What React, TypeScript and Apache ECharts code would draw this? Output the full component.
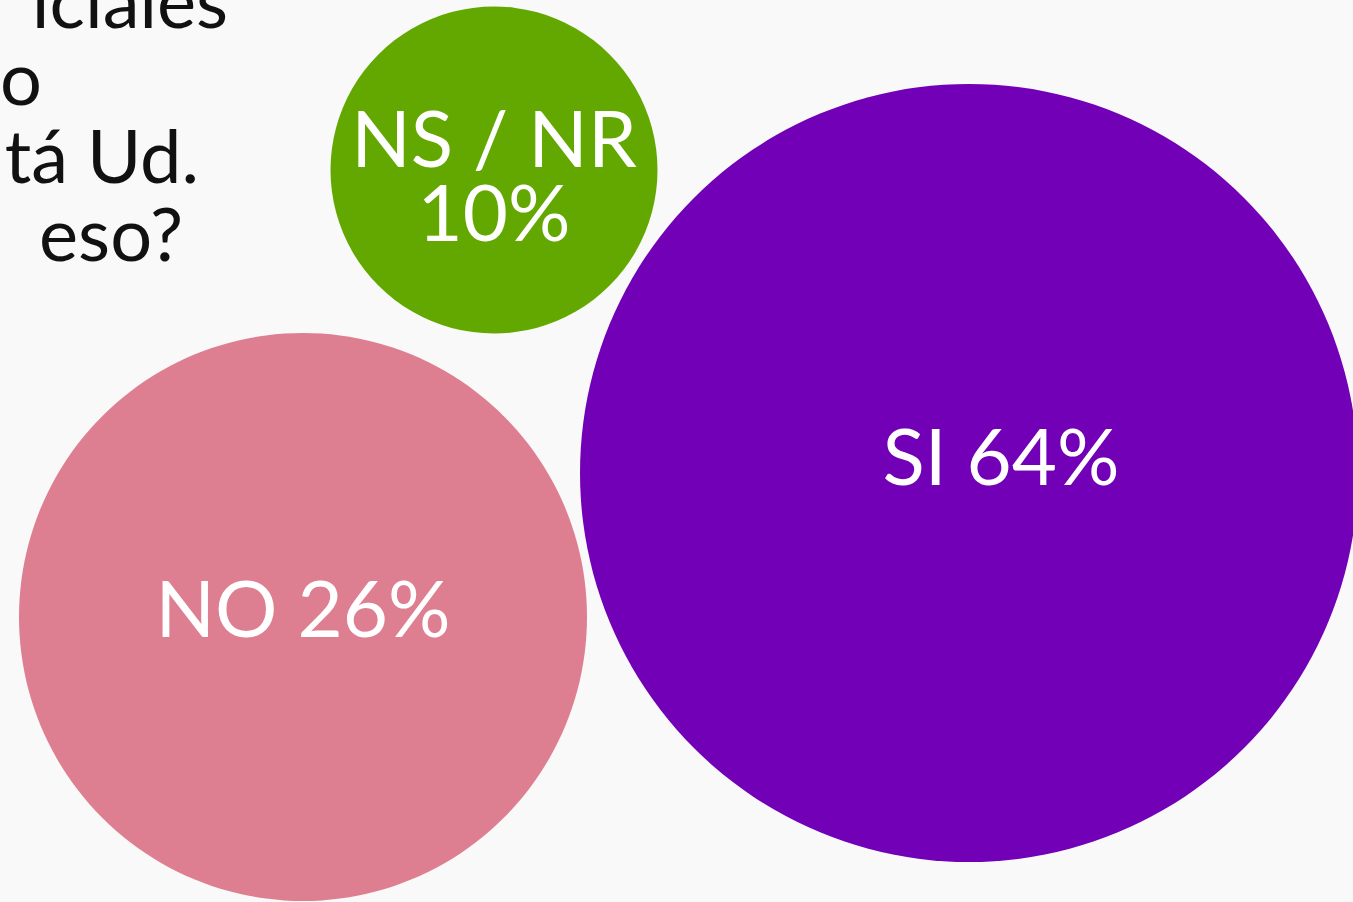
import React, { useEffect, useRef } from "react";
import * as echarts from "echarts";

// ---- data ----
const categories = ["NS / NR", "NO", "SI"];
const values = [10, 26, 64];
const titleLines = ["iciales", "o", "tá Ud.", "eso?"];

// ---- layout (positions in a 1353 x 902 coordinate space, sizes are diameters) ----
const layoutX = [494, 303, 969];
const layoutY = [170, 617, 473];
const layoutDiam = [327, 568, 778];
const colors = ["#62a800", "#de7f91", "#7100b6"];
const labelOffsets = [
  [0, 4],
  [0, -10],
  [32, -18],
];
const titleRight = [228, 42, 199, 183];

export default function App() {
  const ref = useRef<HTMLDivElement>(null);
  useEffect(() => {
    document.body.style.margin = "0";
    const chart = echarts.init(ref.current!, null, { renderer: "svg" });
    const font = "Lato, 'Noto Sans', sans-serif";
    const data = categories.map((c, i) => ({
      name: c,
      value: [layoutX[i], layoutY[i], values[i]],
      symbolSize: layoutDiam[i],
      itemStyle: { color: colors[i], opacity: 1 },
      label: {
        offset: labelOffsets[i],
        formatter: i === 0 ? `${c}\n${values[i]}%` : `${c} ${values[i]}%`,
      },
    }));
    chart.setOption({
      animation: false,
      backgroundColor: "#f9f9f9",
      grid: { left: 0, right: 0, top: 0, bottom: 0 },
      xAxis: { type: "value", min: 0, max: 1353, show: false },
      yAxis: { type: "value", min: 0, max: 902, inverse: true, show: false },
      graphic: titleLines.map((t, i) => ({
        type: "text",
        x: titleRight[i],
        y: -1 + i * 77.7,
        style: {
          text: t,
          align: "right",
          verticalAlign: "middle",
          fill: "#111111",
          font: `400 74px ${font}`,
        },
      })),
      series: [
        {
          type: "scatter",
          clip: false,
          data,
          itemStyle: { opacity: 1 },
          label: {
            show: true,
            position: "inside",
            color: "#ffffff",
            fontFamily: font,
            fontSize: 78,
            lineHeight: 74,
          },
        },
      ],
    });
    return () => chart.dispose();
  }, []);
  return <div ref={ref} style={{ width: 1353, height: 902 }} />;
}
